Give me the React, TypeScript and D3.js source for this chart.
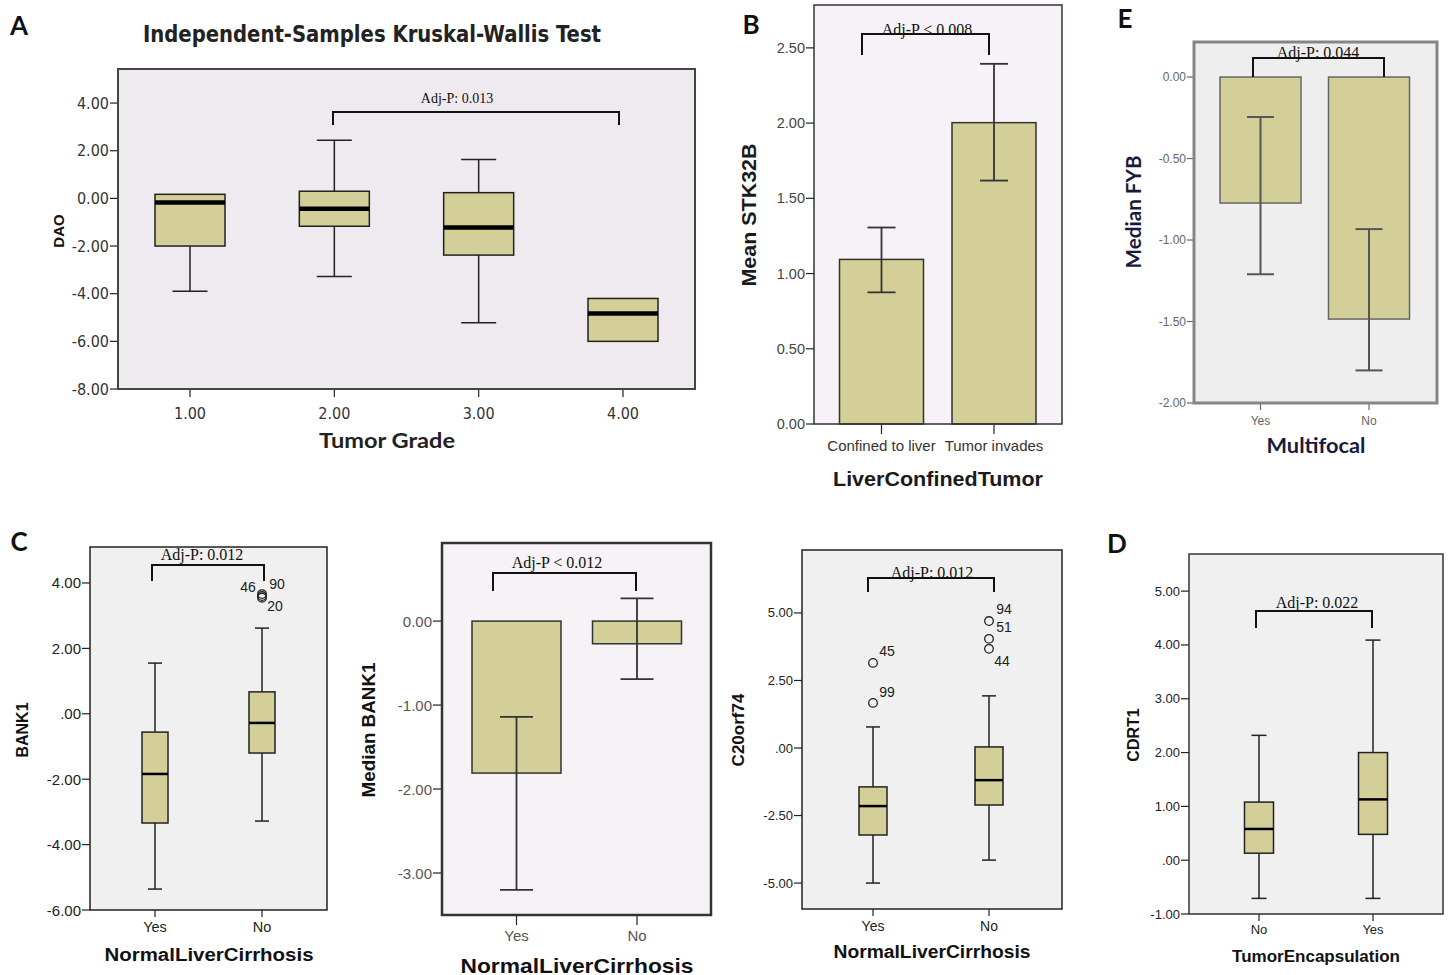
import React from 'react';
import * as d3 from 'd3';

// ---------- values ----------

// A: DAO by tumour grade (box plot)
const gradeCats = ['1.00', '2.00', '3.00', '4.00'];
const daoLo = [-3.9, -3.28, -5.22, -6.0];
const daoQ1 = [-2.0, -1.17, -2.38, -6.0];
const daoMed = [-0.17, -0.43, -1.22, -4.83];
const daoQ3 = [0.17, 0.3, 0.24, -4.2];
const daoHi = [0.17, 2.44, 1.63, -4.2];
const daoTicks = [4, 2, 0, -2, -4, -6, -8];

// B: mean STK32B (bar + error bar)
const lctCats = ['Confined to liver', 'Tumor invades'];
const stkMean = [1.094, 2.003];
const stkLo = [0.875, 1.618];
const stkHi = [1.306, 2.394];
const stkTicks = [0, 0.5, 1, 1.5, 2, 2.5];

// E: median FYB by multifocal
const focalCats = ['Yes', 'No'];
const fybMedian = [-0.773, -1.485];
const fybLo = [-1.21, -1.8];
const fybHi = [-0.245, -0.933];
const fybTicks = [0, -0.5, -1, -1.5, -2];

// C (left): BANK1 box plot
const cirrCats = ['Yes', 'No'];
const bankLo = [-5.36, -3.28];
const bankQ1 = [-3.34, -1.2];
const bankMed = [-1.84, -0.28];
const bankQ3 = [-0.56, 0.67];
const bankHi = [1.55, 2.62];
const bankOut = [
  { cat: 'No', v: 3.66, id: '90' },
  { cat: 'No', v: 3.6, id: '46' },
  { cat: 'No', v: 3.55, id: '20' },
];
const bankTicks = [4, 2, 0, -2, -4, -6];

// C (middle): median BANK1
const bankMedianBar = [-1.81, -0.27];
const bankMedianLo = [-3.2, -0.69];
const bankMedianHi = [-1.14, 0.27];
const bankMedianTicks = [0, -1, -2, -3];

// C (right): C20orf74 box plot
const c20Lo = [-5.0, -4.15];
const c20Q1 = [-3.22, -2.11];
const c20Med = [-2.15, -1.19];
const c20Q3 = [-1.44, 0.04];
const c20Hi = [0.78, 1.93];
const c20Out = [
  { cat: 'Yes', v: 3.15, id: '45' },
  { cat: 'Yes', v: 1.67, id: '99' },
  { cat: 'No', v: 4.7, id: '94' },
  { cat: 'No', v: 4.04, id: '51' },
  { cat: 'No', v: 3.67, id: '44' },
];
const c20Ticks = [5, 2.5, 0, -2.5, -5];

// D: CDRT1 by tumour encapsulation
const encCats = ['No', 'Yes'];
const cdrLo = [-0.71, -0.71];
const cdrQ1 = [0.13, 0.48];
const cdrMed = [0.58, 1.13];
const cdrQ3 = [1.08, 2.0];
const cdrHi = [2.32, 4.09];
const cdrTicks = [5, 4, 3, 2, 1, 0, -1];

// ---------- helpers ----------
const locale = d3.formatLocale({ decimal: '.', thousands: ',', grouping: [3], currency: ['', ''], minus: '-' });
const f2 = locale.format('.2f');
const spss = (v: number) => (v === 0 ? '.00' : f2(v)); // SPSS drops the leading zero

const SANS = '"Liberation Sans", Arial, sans-serif';
const NARROW = '"Liberation Sans Narrow", "DejaVu Sans Condensed", sans-serif';
const SERIF = '"Liberation Serif", "Times New Roman", serif';
const CAL = 'Lato, "Open Sans", sans-serif';
const TAN = '#D4CF98';

type Box = { lo: number; q1: number; med: number; q3: number; hi: number };
const zipBoxes = (lo: number[], q1: number[], med: number[], q3: number[], hi: number[]): Box[] =>
  lo.map((_, i) => ({ lo: lo[i], q1: q1[i], med: med[i], q3: q3[i], hi: hi[i] }));

type Txt = { t: string; x: number; y: number; size: number; font?: string; color?: string; len?: number; weight?: any };

function Label({ d, rotate }: { d: Txt; rotate?: boolean }) {
  return (
    <text
      x={d.x}
      y={d.y}
      fontSize={d.size}
      fontFamily={d.font || SANS}
      fontWeight={d.weight ?? 'bold'}
      fill={d.color || '#111'}
      textAnchor="middle"
      dominantBaseline="central"
      textLength={d.len}
      lengthAdjust={d.len ? 'spacingAndGlyphs' : undefined}
      transform={rotate ? `rotate(-90, ${d.x}, ${d.y})` : undefined}
    >
      {d.t}
    </text>
  );
}

function Panel({ s }: { s: any }) {
  const [fx0, fy0, fx1, fy1] = s.frame;
  const y = d3.scaleLinear().domain(s.yDomain).range([fy1, fy0]);
  const x = d3.scalePoint<string>().domain(s.cats).range(s.centres);
  const hw = s.markW / 2;
  const hc = s.capW / 2;
  const ink = s.ink || '#222';
  const errC = s.errColor || '#333';
  const errW = s.errW || 1.8;

  return (
    <g>
      <rect x={fx0} y={fy0} width={fx1 - fx0} height={fy1 - fy0} fill={s.bg} />

      {/* value axis */}
      {s.ticks.map((t: number) => (
        <g key={'t' + t}>
          <line x1={fx0 - s.tick.len} x2={fx0} y1={y(t)} y2={y(t)} stroke={ink} strokeWidth={1.2} />
          <text
            x={fx0 - s.tick.len - 1}
            y={y(t)}
            textAnchor="end"
            dominantBaseline="central"
            fontSize={s.tick.size}
            fontFamily={s.tick.font}
            fill={s.tick.color}
          >
            {s.fmt(t)}
          </text>
        </g>
      ))}

      {/* category axis */}
      {s.cats.map((c: string) => (
        <g key={'c' + c}>
          <line x1={x(c)} x2={x(c)} y1={fy1} y2={fy1 + s.cat.len} stroke={ink} strokeWidth={1.2} />
          <text
            x={x(c)}
            y={s.cat.y}
            textAnchor="middle"
            dominantBaseline="central"
            fontSize={s.cat.size}
            fontFamily={s.cat.font}
            fill={s.cat.color}
          >
            {c}
          </text>
        </g>
      ))}

      {/* bars with error bars */}
      {s.bars &&
        s.cats.map((c: string, i: number) => {
          const v = s.bars.v[i];
          const cx = x(c) as number;
          return (
            <g key={'b' + c}>
              <rect
                x={cx - hw}
                y={Math.min(y(0), y(v))}
                width={s.markW}
                height={Math.abs(y(v) - y(0))}
                fill={TAN}
                stroke={s.barStroke || '#333'}
                strokeWidth={1.5}
              />
              <line x1={cx} x2={cx} y1={y(s.bars.lo[i])} y2={y(s.bars.hi[i])} stroke={errC} strokeWidth={errW} />
              <line x1={cx - hc} x2={cx + hc} y1={y(s.bars.lo[i])} y2={y(s.bars.lo[i])} stroke={errC} strokeWidth={errW} />
              <line x1={cx - hc} x2={cx + hc} y1={y(s.bars.hi[i])} y2={y(s.bars.hi[i])} stroke={errC} strokeWidth={errW} />
            </g>
          );
        })}

      {/* box plots */}
      {s.boxes &&
        s.boxes.map((b: Box, i: number) => {
          const cx = x(s.cats[i]) as number;
          return (
            <g key={'x' + i} stroke={ink} strokeWidth={1.5}>
              {b.hi > b.q3 && (
                <>
                  <line x1={cx} x2={cx} y1={y(b.q3)} y2={y(b.hi)} />
                  <line x1={cx - hc} x2={cx + hc} y1={y(b.hi)} y2={y(b.hi)} />
                </>
              )}
              {b.lo < b.q1 && (
                <>
                  <line x1={cx} x2={cx} y1={y(b.q1)} y2={y(b.lo)} />
                  <line x1={cx - hc} x2={cx + hc} y1={y(b.lo)} y2={y(b.lo)} />
                </>
              )}
              <rect x={cx - hw} y={y(b.q3)} width={s.markW} height={y(b.q1) - y(b.q3)} fill={TAN} />
              <line x1={cx - hw} x2={cx + hw} y1={y(b.med)} y2={y(b.med)} strokeWidth={s.medW} stroke="#000" />
            </g>
          );
        })}

      {/* outliers */}
      {s.outliers &&
        s.outliers.map((o: any) => {
          const cx = x(o.cat) as number;
          const [dx, dy] = s.labelOffset[o.id];
          return (
            <g key={'o' + o.id}>
              <circle cx={cx} cy={y(o.v)} r={4.3} fill="none" stroke={ink} strokeWidth={1.3} />
              <text
                x={cx + dx}
                y={y(o.v) + dy}
                textAnchor="middle"
                dominantBaseline="central"
                fontSize={14}
                fontFamily={SANS}
                fill="#222"
              >
                {o.id}
              </text>
            </g>
          );
        })}

      <rect x={fx0} y={fy0} width={fx1 - fx0} height={fy1 - fy0} fill="none" stroke={s.stroke} strokeWidth={s.strokeW} />

      {/* significance bracket */}
      <path
        d={`M${s.bracket.x0},${s.bracket.foot}V${s.bracket.y}H${s.bracket.x1}V${s.bracket.foot}`}
        fill="none"
        stroke="#111"
        strokeWidth={2}
      />
      <Label d={s.bracket.text} />

      {s.texts.map((t: Txt) => (
        <Label key={t.t + t.x} d={t} />
      ))}
      <Label d={s.yTitle} rotate />
    </g>
  );
}

const panels: any[] = [
  {
    // A
    cats: gradeCats,
    boxes: zipBoxes(daoLo, daoQ1, daoMed, daoQ3, daoHi),
    ticks: daoTicks,
    fmt: f2,
    yDomain: [-8, 5.43],
    frame: [118, 69, 695, 389],
    centres: [190, 623],
    markW: 70,
    capW: 35,
    medW: 4.5,
    bg: '#EFEAEF',
    stroke: '#444',
    strokeW: 2,
    tick: { size: 16, font: NARROW, color: '#333', len: 8 },
    cat: { size: 16, font: NARROW, color: '#333', y: 413, len: 8 },
    bracket: { x0: 333, x1: 619, y: 112, foot: 125, text: { t: 'Adj-P: 0.013', x: 457, y: 98, size: 14, font: SERIF, weight: 'normal' } },
    texts: [
      { t: 'A', x: 19, y: 25, size: 26, font: CAL },
      { t: 'Independent-Samples Kruskal-Wallis Test', x: 372, y: 34, size: 23, font: NARROW, len: 458, color: '#222' },
      { t: 'Tumor Grade', x: 387, y: 440, size: 20, font: CAL, len: 136, color: '#222' },
    ],
    yTitle: { t: 'DAO', x: 58, y: 231, size: 15 },
  },
  {
    // B
    cats: lctCats,
    bars: { v: stkMean, lo: stkLo, hi: stkHi },
    ticks: stkTicks,
    fmt: f2,
    yDomain: [0, 2.785],
    frame: [814, 5, 1062, 424],
    centres: [881.5, 994],
    markW: 84,
    capW: 28,
    bg: '#F7F2F7',
    stroke: '#333',
    strokeW: 1.5,
    tick: { size: 14.5, font: SANS, color: '#444', len: 8 },
    cat: { size: 15, font: SANS, color: '#333', y: 445, len: 10 },
    bracket: { x0: 862, x1: 989, y: 34, foot: 55, text: { t: 'Adj-P < 0.008', x: 927, y: 29, size: 16, font: SERIF, weight: 'normal' } },
    texts: [
      { t: 'B', x: 751, y: 24, size: 26, font: CAL },
      { t: 'LiverConfinedTumor', x: 938, y: 478, size: 21, len: 210, color: '#1a1a1a' },
    ],
    yTitle: { t: 'Mean STK32B', x: 748, y: 215, size: 21, len: 143, color: '#1a1a1a' },
  },
  {
    // E
    cats: focalCats,
    bars: { v: fybMedian, lo: fybLo, hi: fybHi },
    ticks: fybTicks,
    fmt: f2,
    yDomain: [-2, 0.215],
    frame: [1194, 42, 1437, 403],
    centres: [1260.5, 1369],
    markW: 81,
    capW: 27,
    bg: '#EEEEEE',
    stroke: '#858585',
    strokeW: 3,
    ink: '#666',
    errColor: '#555',
    errW: 2,
    barStroke: '#666',
    tick: { size: 12, font: SANS, color: '#666', len: 7 },
    cat: { size: 12, font: SANS, color: '#666', y: 421, len: 7 },
    bracket: { x0: 1253, x1: 1384, y: 58, foot: 77, text: { t: 'Adj-P: 0.044', x: 1318, y: 52, size: 16, font: SERIF, weight: 'normal' } },
    texts: [
      { t: 'E', x: 1125, y: 18, size: 26, font: CAL },
      { t: 'Multifocal', x: 1316, y: 445, size: 20, font: CAL, len: 99, color: '#1a1a3c' },
    ],
    yTitle: { t: 'Median FYB', x: 1133, y: 212, size: 20, font: CAL, len: 113, color: '#1a1a3c' },
  },
  {
    // C left
    cats: cirrCats,
    boxes: zipBoxes(bankLo, bankQ1, bankMed, bankQ3, bankHi),
    outliers: bankOut,
    labelOffset: { '90': [15, -10], '46': [-14, -9], '20': [13, 8] },
    ticks: bankTicks,
    fmt: spss,
    yDomain: [-6, 5.1],
    frame: [90, 547, 327, 910],
    centres: [155, 262],
    markW: 26,
    capW: 14,
    medW: 2.5,
    bg: '#F0F0F0',
    stroke: '#222',
    strokeW: 1.5,
    tick: { size: 15, font: SANS, color: '#222', len: 8 },
    cat: { size: 14.5, font: SANS, color: '#222', y: 927, len: 7 },
    bracket: { x0: 152, x1: 264, y: 565, foot: 581, text: { t: 'Adj-P: 0.012', x: 202, y: 554, size: 16, font: SERIF, weight: 'normal' } },
    texts: [
      { t: 'C', x: 19, y: 541, size: 26, font: CAL },
      { t: 'NormalLiverCirrhosis', x: 209, y: 955, size: 18, len: 209 },
    ],
    yTitle: { t: 'BANK1', x: 22, y: 730, size: 16 },
  },
  {
    // C middle
    cats: cirrCats,
    bars: { v: bankMedianBar, lo: bankMedianLo, hi: bankMedianHi },
    ticks: bankMedianTicks,
    fmt: f2,
    yDomain: [-3.5, 0.93],
    frame: [442, 543, 711, 915],
    centres: [516.5, 637],
    markW: 89,
    capW: 33,
    bg: '#F6F2F6',
    stroke: '#333',
    strokeW: 2.5,
    tick: { size: 15, font: SANS, color: '#555', len: 9 },
    cat: { size: 15, font: SANS, color: '#555', y: 935, len: 10 },
    bracket: { x0: 493, x1: 636, y: 573, foot: 591, text: { t: 'Adj-P < 0.012', x: 557, y: 562, size: 16, font: SERIF, weight: 'normal' } },
    texts: [{ t: 'NormalLiverCirrhosis', x: 577, y: 965, size: 21, len: 233 }],
    yTitle: { t: 'Median BANK1', x: 368, y: 730, size: 19, len: 135 },
  },
  {
    // C right
    cats: cirrCats,
    boxes: zipBoxes(c20Lo, c20Q1, c20Med, c20Q3, c20Hi),
    outliers: c20Out,
    labelOffset: { '45': [14, -12], '99': [14, -11], '94': [15, -12], '51': [15, -12], '44': [13, 12] },
    ticks: c20Ticks,
    fmt: spss,
    yDomain: [-5.96, 7.33],
    frame: [802, 550, 1062, 909],
    centres: [873, 989],
    markW: 28,
    capW: 14,
    medW: 2.5,
    bg: '#F0F0F0',
    stroke: '#222',
    strokeW: 1.5,
    tick: { size: 13, font: SANS, color: '#222', len: 8 },
    cat: { size: 14, font: SANS, color: '#222', y: 926, len: 7 },
    bracket: { x0: 868, x1: 994, y: 578, foot: 592, text: { t: 'Adj-P: 0.012', x: 932, y: 572, size: 16, font: SERIF, weight: 'normal' } },
    texts: [{ t: 'NormalLiverCirrhosis', x: 932, y: 952, size: 18, len: 197 }],
    yTitle: { t: 'C20orf74', x: 738, y: 730, size: 17 },
  },
  {
    // D
    cats: encCats,
    boxes: zipBoxes(cdrLo, cdrQ1, cdrMed, cdrQ3, cdrHi),
    ticks: cdrTicks,
    fmt: spss,
    yDomain: [-1, 5.69],
    frame: [1189, 554, 1443, 914],
    centres: [1259, 1373],
    markW: 29,
    capW: 15,
    medW: 2.5,
    bg: '#F0F0F0',
    stroke: '#333',
    strokeW: 1.5,
    tick: { size: 13, font: SANS, color: '#222', len: 8 },
    cat: { size: 13, font: SANS, color: '#222', y: 929, len: 7 },
    bracket: { x0: 1256, x1: 1372, y: 611, foot: 628, text: { t: 'Adj-P: 0.022', x: 1317, y: 602, size: 16, font: SERIF, weight: 'normal' } },
    texts: [
      { t: 'D', x: 1117, y: 543, size: 26, font: CAL },
      { t: 'TumorEncapsulation', x: 1316, y: 956, size: 17, len: 168 },
    ],
    yTitle: { t: 'CDRT1', x: 1133, y: 735, size: 16 },
  },
];

export default function App() {
  return (
    <svg width={1449} height={975} style={{ position: 'absolute', left: 0, top: 0, background: '#fff' }}>
      <rect width={1449} height={975} fill="#fff" />
      {panels.map((p, i) => (
        <Panel key={i} s={p} />
      ))}
    </svg>
  );
}
